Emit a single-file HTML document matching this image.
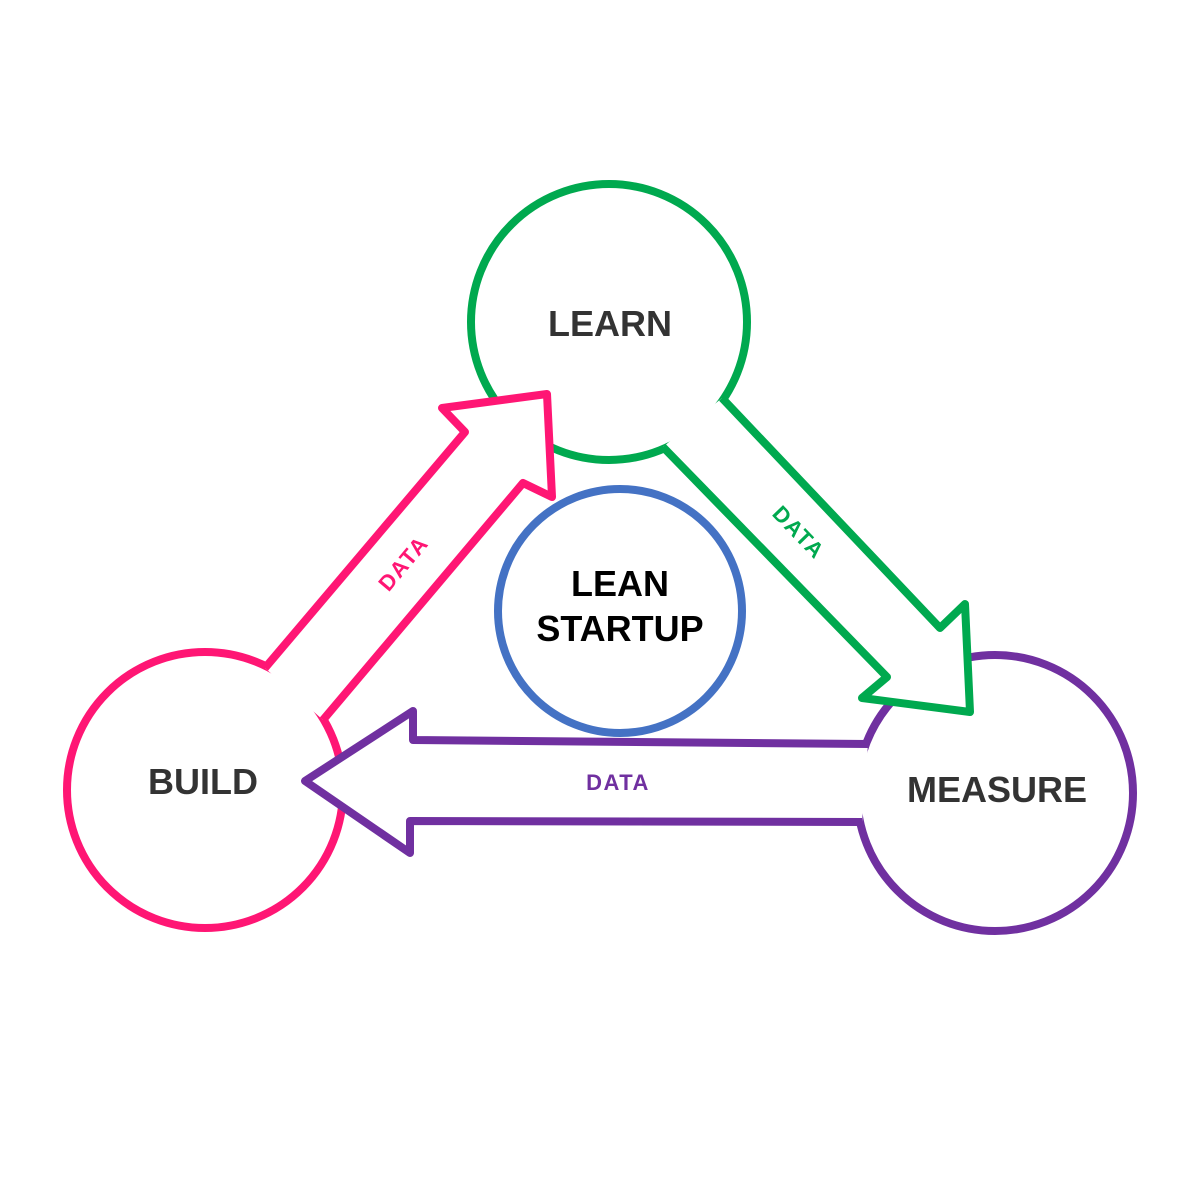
<!DOCTYPE html>
<html><head><meta charset="utf-8"><style>
html,body{margin:0;padding:0;background:#fff;}
svg{display:block}
text{font-family:"Liberation Sans",Arial,sans-serif;font-weight:bold}
</style></head><body>
<svg width="1200" height="1200" viewBox="0 0 1200 1200">
<rect width="1200" height="1200" fill="#fff"/>
<g fill="none" stroke-width="8">
<circle cx="609" cy="322" r="138" stroke="#00a94f"/>
<circle cx="205" cy="790" r="138" stroke="#ff1674"/>
<circle cx="995" cy="793" r="138" stroke="#7030a0"/>
<circle cx="620" cy="611" r="122" stroke="#4472c4"/>
</g>
<polygon points="265,668 465,432 442,408 547,394 552,497 523,483 323,720" fill="#fff"/>
<polyline points="265,668 465,432 442,408 547,394 552,497 523,483 323,720" fill="none" stroke="#ff1674" stroke-width="8" stroke-linejoin="round"/>
<polygon points="722,398 940,628 965,604 970,712 862,698 887,677 663,447" fill="#fff"/>
<polyline points="722,398 940,628 965,604 970,712 862,698 887,677 663,447" fill="none" stroke="#00a94f" stroke-width="8" stroke-linejoin="round"/>
<polygon points="868,744 413,740 413,711 305,781 410,853 410,821 862,822" fill="#fff"/>
<polyline points="868,744 413,740 413,711 305,781 410,853 410,821 862,822" fill="none" stroke="#7030a0" stroke-width="8" stroke-linejoin="round"/>
<g font-size="36" fill="#333" text-anchor="middle">
<text x="610" y="336">LEARN</text>
<text x="203" y="794">BUILD</text>
<text x="997" y="802">MEASURE</text>
</g>
<g font-size="36" fill="#000" text-anchor="middle">
<text x="620" y="596">LEAN</text>
<text x="620" y="641">STARTUP</text>
</g>
<g font-size="22" text-anchor="middle" letter-spacing="1.5">
<text x="0" y="0" fill="#ff1674" transform="translate(403,563) rotate(-50) translate(0,8)">DATA</text>
<text x="0" y="0" fill="#00a94f" transform="translate(799,532) rotate(46) translate(0,8)">DATA</text>
<text x="618" y="790" fill="#7030a0">DATA</text>
</g>
</svg>
</body></html>
